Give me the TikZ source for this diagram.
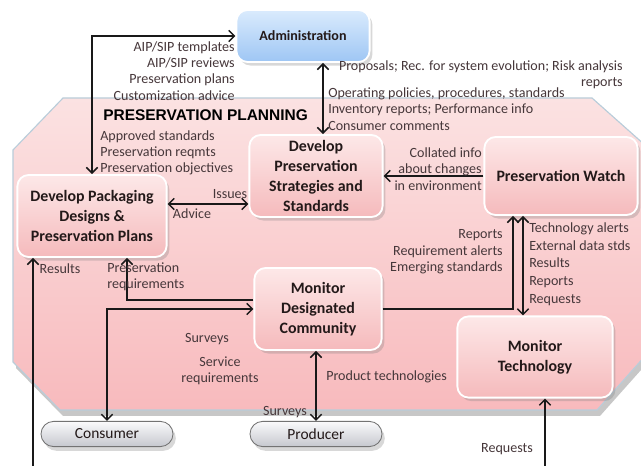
\documentclass[tikz,border=0pt]{standalone}
\usepackage{fontspec}
\setmainfont{Carlito}
\newfontfamily\titlefont{Liberation Sans}
\usetikzlibrary{shadows,arrows.meta}

\definecolor{plantop}{RGB}{251,226,226}
\definecolor{planbot}{RGB}{248,186,189}
\definecolor{planline}{RGB}{185,205,218}
\definecolor{boxlight}{RGB}{253,232,232}
\definecolor{boxdark}{RGB}{245,186,188}
\definecolor{admlight}{RGB}{218,235,253}
\definecolor{admdark}{RGB}{158,198,244}
\definecolor{actlight}{RGB}{250,250,252}
\definecolor{actdark}{RGB}{198,200,206}
\definecolor{lbltext}{RGB}{70,55,58}
\definecolor{boxtext}{RGB}{35,25,25}

\newcommand{\planpath}{(63,98) -- (592,98) -- (646,146) -- (646,355) -- (597,410) -- (60,410) -- (13,362) -- (13,150) -- cycle}

\begin{document}
\begin{tikzpicture}[x=0.025cm, y=-0.025cm,
	>={Straight Barb[length=4pt,width=8pt]},
	flow/.style={draw=black!90, line width=1.1pt},
	box/.style={draw=white, line width=1.3pt, rounded corners=8pt, top color=boxlight, bottom color=boxdark, drop shadow={shadow xshift=2pt, shadow yshift=-2.5pt, opacity=0.3}, align=center, text=boxtext, font=\fontsize{11.3}{14.2}\selectfont\bfseries, inner sep=0pt},
	adminbox/.style={box, top color=admlight, bottom color=admdark, font=\fontsize{10}{12}\selectfont\bfseries},
	actor/.style={draw=black!55, line width=0.6pt, rounded corners=9pt, top color=actlight, bottom color=actdark, drop shadow={shadow xshift=2pt, shadow yshift=-3pt, opacity=0.3}, text=boxtext, font=\fontsize{11}{13}\selectfont, minimum width=3.3cm, minimum height=0.63cm, inner sep=0pt},
	lbl/.style={text=lbltext, font=\fontsize{10}{11.6}\selectfont, inner sep=0pt}]
	
	\useasboundingbox (0,0) rectangle (641,466);
	\fill[white] (0,0) rectangle (641,466);
	
	\fill[black, opacity=0.22, shift={(3,6)}] \planpath;
	\draw[draw=planline, line width=0.8pt, top color=plantop, bottom color=planbot] \planpath;
	
	\node[adminbox, minimum width=3.33cm, minimum height=1.3cm] (admin) at (303,36) {Administration};
	\node[box, minimum width=3.33cm, minimum height=2.05cm] (strat) at (316,176) {Develop\\Preservation\\Strategies and\\Standards};
	\node[box, minimum width=3.73cm, minimum height=2.05cm] (pack) at (92,216) {Develop Packaging\\Designs \&\\Preservation Plans};
	\node[box, minimum width=3.83cm, minimum height=1.95cm] (watch) at (561,176) {Preservation Watch};
	\node[box, minimum width=3.18cm, minimum height=2.05cm] (mdc) at (318,309) {Monitor\\Designated\\Community};
	\node[box, minimum width=3.88cm, minimum height=2.03cm] (montech) at (535,357) {Monitor\\Technology};
	\node[actor] (cons) at (107,434) {Consumer};
	\node[actor] (prod) at (316,434) {Producer};
	
	\coordinate (adm) at ([xshift=0.175cm]strat.north);
	\coordinate (iss) at ([yshift=0.3cm]pack.east);
	\coordinate (preq) at ([xshift=0.875cm]pack.south);
	\coordinate (mdcin) at ([yshift=0.225cm]mdc.west);
	\coordinate (wup) at ([xshift=-1.2cm]watch.south);
	\coordinate (wdown) at ([xshift=-0.95cm]watch.south);
	\coordinate (resin) at (33,466);
	\coordinate (reqin) at (545,466);
	
	\draw[flow, <->] (pack.north) |- (admin.west);
	\draw[flow, <->] (adm) -- (adm |- admin.south);
	\draw[flow, ->] (watch.west) -- (strat.east);
	\draw[flow, <->] (iss) -- (iss -| strat.west);
	\draw[flow, ->] (mdcin) -| (preq);
	\draw[flow, <->] (cons.north) |- (mdc.west);
	\draw[flow, ->] (mdc.east) -| (wup);
	\draw[flow, <->] (wdown) -- (wdown |- montech.north);
	\draw[flow, <->] (prod.north) -- (prod.north |- mdc.south);
	\draw[flow, ->] (resin) -- (resin |- pack.south);
	\draw[flow, ->] (reqin) -- (reqin |- montech.south);
	
	\node[lbl, anchor=east, align=right] (tmpl) at (235,71) {AIP/SIP templates\\AIP/SIP reviews\\Preservation plans\\Customization advice};
	\node[anchor=west, inner sep=0pt, text=black, font=\titlefont\fontsize{11}{13}\selectfont\bfseries] (title) at (103,115) {PRESERVATION PLANNING};
	\node[lbl, anchor=west, align=left] (appr) at (100,153) {Approved standards\\Preservation reqmts\\Preservation objectives};
	\node[lbl, anchor=east, align=right] (prop) at (623,75) {Proposals; Rec. for system evolution; Risk analysis\\reports};
	\node[lbl, anchor=west, align=left] (oper) at (328,109) {Operating policies, procedures, standards\\Inventory reports; Performance info\\Consumer comments};
	\node[lbl, anchor=east, align=right] (coll) at (482,169) {Collated info\\about changes\\in environment};
	\node[lbl] (issues) at (230,194) {Issues};
	\node[lbl] (advice) at (192,214) {Advice};
	\node[lbl] (resl) at (60,269) {Results};
	\node[lbl, anchor=west, align=left] (preqlbl) at (107,277) {Preservation\\requirements};
	\node[lbl, anchor=east, align=right] (rep) at (503,252) {Reports\\Requirement alerts\\Emerging standards};
	\node[lbl, anchor=west, align=left, font=\fontsize{10}{12.6}\selectfont] (tech) at (529,264) {Technology alerts\\External data stds\\Results\\Reports\\Requests};
	\node[lbl] (surv) at (207,339) {Surveys};
	\node[lbl, align=center] (servreq) at (220,371) {Service\\requirements};
	\node[lbl] (survprod) at (285,412) {Surveys};
	\node[lbl, anchor=west] (prodtech) at (326,377) {Product technologies};
	\node[lbl] (reqs) at (507,449) {Requests};
\end{tikzpicture}
\end{document}
